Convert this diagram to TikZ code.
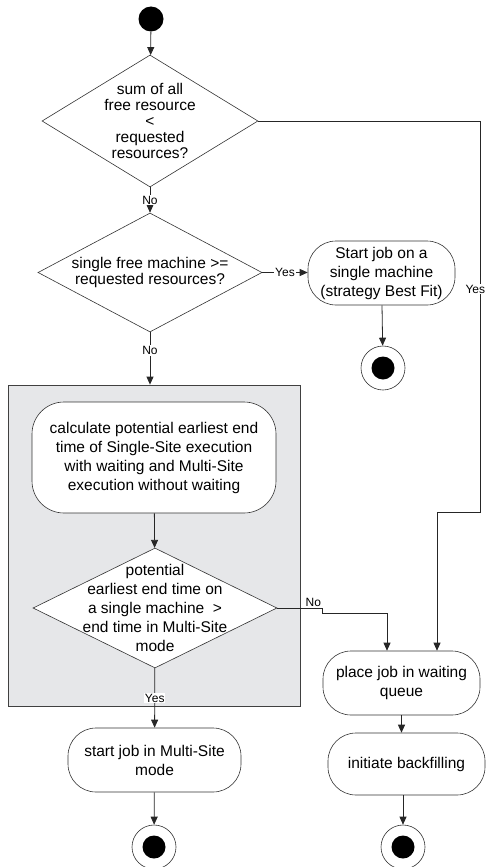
\documentclass[tikz,border=0pt]{standalone}
\usepackage{fontspec}
\setmainfont{Liberation Sans}
\usetikzlibrary{shapes.geometric, arrows.meta}
\definecolor{regiongray}{HTML}{E6E7E9}

\begin{document}
\begin{tikzpicture}[x=1pt, y=-1pt, >={Triangle[length=8pt,width=7pt]},
  line/.style={draw=black!85, line width=0.8pt},
  decision/.style={diamond, draw=black!80, fill=white, line width=0.6pt, inner sep=0pt},
  dtext/.style={align=center, font=\fontsize{15.5}{16}\selectfont},
  activity/.style={rectangle, rounded corners=28pt, draw=black!80, fill=white, line width=0.6pt,
    align=center, inner sep=2pt, font=\fontsize{15.5}{19}\selectfont},
  guard/.style={fill=white, inner sep=1pt, font=\fontsize{12}{14}\selectfont},
  initial/.style={circle, fill=black, minimum size=25pt, inner sep=0pt},
  final/.style={circle, draw=black!80, fill=white, line width=0.6pt, minimum size=44pt, inner sep=0pt,
    path picture={\fill[black] (path picture bounding box.center) circle (11.5pt);}},
  region/.style={rectangle, draw=black!75, fill=regiongray, line width=0.8pt, inner sep=0pt}
]
\useasboundingbox (0,0) rectangle (487,867);

% grey region behind the Multi-Site check
\node[region, minimum width=292pt, minimum height=321pt] (frame) at (154,545.5) {};

\node[initial] (start) at (151,19) {};
\node[decision, minimum width=216pt, minimum height=132pt,
  label={[dtext]center:{sum of all\\free resource\\<\\requested\\resources?}}] (d1) at (150,121) {};
\node[decision, minimum width=224pt, minimum height=119pt,
  label={[dtext]center:{single free machine >=\\requested resources?}}] (d2) at (150,272.5) {};
\node[activity, minimum width=147pt, minimum height=64pt] (sj1) at (381.5,273) {Start job on a\\single machine\\(strategy Best Fit)};
\node[final] (end1) at (383,368) {};

\node[activity, rounded corners=32pt, minimum width=244pt, minimum height=111pt] (calc) at (154,457.5)
  {calculate potential earliest end\\time of Single-Site execution\\with waiting and Multi-Site\\execution without waiting};
\node[decision, minimum width=244pt, minimum height=120pt,
  label={[dtext, font=\fontsize{15.5}{19}\selectfont]center:{potential\\earliest end time on\\a single machine~~>\\end time in Multi-Site\\mode}}] (d3) at (155,608) {};
\node[activity, minimum width=173pt, minimum height=64pt] (sms) at (154.5,760) {start job in Multi-Site\\mode};
\node[final] (end2) at (154,847) {};

\node[activity, minimum width=157pt, minimum height=64pt] (place) at (401.5,683) {place job in waiting\\queue};
\node[activity, minimum width=157pt, minimum height=62pt] (backfill) at (406.5,764) {initiate backfilling};
\node[final] (end3) at (403,847) {};

% connectors
\draw[line, ->] (start) -- (d1);
\draw[line, ->] (d1) -- node[guard] {No} (d2);
\draw[line, ->] (d2.east) -- node[guard] {Yes} (d2.east -| sj1.west);
\draw[line, ->] (sj1) -- (end1);
\draw[line, ->] (d2.south) -- node[guard, pos=0.35] {No} (d2.south |- frame.north);
\draw[line, ->] (calc) -- (d3);
\draw[line, ->] (d3) -- node[guard] {Yes} (sms);
\draw[line, ->] (sms) -- (end2);
\draw[line, ->] (d3.east) -- node[pos=0.8, above, inner sep=1pt, font=\fontsize{12}{14}\selectfont] {No} ++(45,0)
  -- ++(0,5) -| ([xshift=-14.5pt]place.north);
\draw[line, ->] (d1.east) -- ++(222,0) -- node[guard, pos=0.43, xshift=-5pt] {Yes} ++(0,391)
  -| ([xshift=35.5pt]place.north);
\draw[line, ->] (place) -- (place.south |- backfill.north);
\draw[line, ->] (end3 |- backfill.south) -- (end3);

\end{tikzpicture}
\end{document}
